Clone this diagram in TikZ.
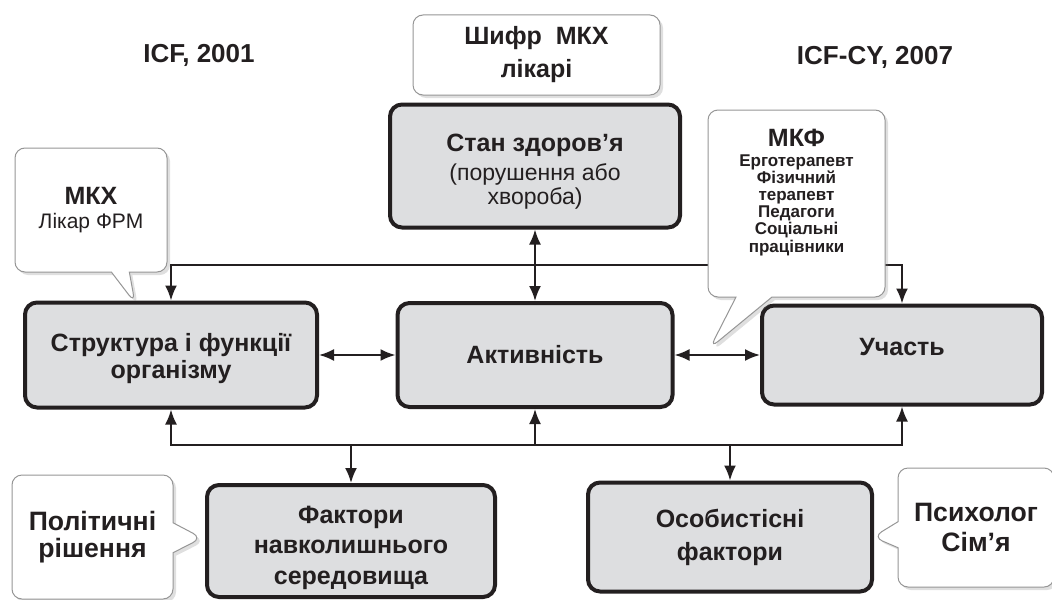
\documentclass[tikz,border=0pt]{standalone}
\usepackage{fontspec}
\setmainfont{Liberation Sans}
\usepackage{tikz}
\usetikzlibrary{positioning, shapes, shapes.callouts, arrows.meta, shadows}

\definecolor{boxgray}{RGB}{221,222,224}
\definecolor{inkdark}{RGB}{35,31,32}
\definecolor{notegray}{RGB}{150,150,150}

\begin{document}
\begin{tikzpicture}[x=0.5pt, y=-0.5pt,
        mainbox/.style={draw=inkdark, line width=2pt, rounded corners=6pt, fill=boxgray, text=inkdark,
            align=center, inner sep=0pt, font=\bfseries\fontsize{12.5}{13.5}\selectfont},
        notebox/.style={draw=notegray, line width=0.5pt, rounded corners=5pt, fill=white, text=inkdark,
            align=center, inner sep=0pt, drop shadow={shadow xshift=1.5pt, shadow yshift=-1.5pt, opacity=0.25}},
        note/.style={notebox, rectangle callout},
        link/.style={draw=inkdark, line width=1pt},
        arr/.style={link, -{Latex[length=7.5pt, width=6pt]}},
        darr/.style={link, {Latex[length=7.5pt, width=6pt]}-{Latex[length=7.5pt, width=6pt]}},
        title/.style={text=inkdark, font=\bfseries\fontsize{13}{15}\selectfont}]
        \useasboundingbox (0,0) rectangle (1052,599);

        \node[title] (icf) at (199,55) {ICF, 2001};
        \node[title] (icfcy) at (875,57) {ICF-CY, 2007};

        \node[mainbox, minimum width=145pt, minimum height=61.5pt] (stan) at (535,166)
            {\rule{0pt}{14pt}Стан здоров’я\\[1pt]{\mdseries\fontsize{11.5}{12}\selectfont (порушення або}\\[-1.5pt]{\mdseries\fontsize{11.5}{12}\selectfont хвороба)}};
        \node[mainbox, minimum width=137.5pt, minimum height=52pt] (aktyv) at (535,355) {Активність};
        \node[mainbox, minimum width=146pt, minimum height=52.5pt] (strukt) at (171,355) {\rule{0pt}{13pt}Структура і функції\\організму};
        \node[mainbox, minimum width=140pt, minimum height=49.5pt] (uchast) at (902,355) {Участь\rule[-8pt]{0pt}{8pt}};
        \node[mainbox, minimum width=144pt, minimum height=56pt] (faktory) at (351,541) {\rule{0pt}{16pt}Фактори\\[1.5pt]навколишнього\\[2pt]середовища};
        \node[mainbox, minimum width=142pt, minimum height=54.5pt] (osob) at (730,537) {Особистісні\\[3pt]фактори};

        \coordinate (topbus) at (535,265);
        \coordinate (botbus) at (535,445);

        \draw[arr] (topbus) -| (strukt.north);
        \draw[arr] (topbus) -| (uchast.north);
        \draw[darr] (stan.south) -- (aktyv.north);
        \draw[darr] (strukt.east) -- (aktyv.west);
        \draw[darr] (aktyv.east) -- (uchast.west);
        \draw[arr] (botbus) -| (strukt.south);
        \draw[arr] (botbus) -| (uchast.south);
        \draw[arr] (botbus) -- (aktyv.south);
        \draw[arr] (botbus) -| (faktory.north);
        \draw[arr] (botbus) -| (osob.north);

        \node[notebox, minimum width=123.5pt, minimum height=40pt, font=\bfseries\fontsize{12.5}{16.5}\selectfont] (shyfr) at (536.5,55)
            {Шифр\ \ МКХ\\лікарі};
        \node[note, minimum width=76pt, minimum height=62pt, callout pointer width=9pt,
            callout absolute pointer={(135,303)}] (mkh) at (91,210)
            {{\bfseries\fontsize{12.5}{14}\selectfont МКХ}\\{\fontsize{10.5}{14}\selectfont Лікар ФРМ}};
        \node[note, minimum width=88.5pt, minimum height=93.5pt, callout pointer width=18pt,
            callout absolute pointer={(710,348)}, font=\bfseries\fontsize{8.5}{8.6}\selectfont] (mkf) at (796.5,203.5)
            {{\fontsize{12.5}{13}\selectfont МКФ}\\[1pt]Ерготерапевт\\Фізичний\\терапевт\\Педагоги\\Соціальні\\працівники\\[4pt]\mbox{}};
        \node[note, minimum width=80.5pt, minimum height=62pt, callout pointer width=15pt,
            callout absolute pointer={(202,538)}, font=\bfseries\fontsize{13.3}{13.5}\selectfont] (polit) at (92.5,537)
            {Політичні\\рішення};
        \node[note, minimum width=78pt, minimum height=59.5pt, callout pointer width=13pt,
            callout absolute pointer={(873,537)}, font=\bfseries\fontsize{13.3}{15}\selectfont] (psych) at (976,527.5)
            {Психолог\\Сім’я};
\end{tikzpicture}
\end{document}
